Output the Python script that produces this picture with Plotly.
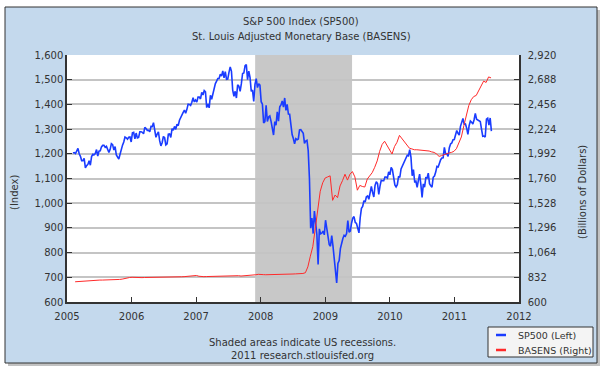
import pandas as pd
import plotly.graph_objects as go

# ---------------- data ----------------
# S&P 500 weekly closes (Fridays) from 2005-02-04
sp500_2005 = [1203, 1205, 1201, 1211, 1222, 1200, 1190, 1172, 1172, 1182, 1143, 1152,
              1157, 1172, 1154, 1189, 1198, 1196, 1201, 1217, 1191, 1211, 1212, 1228,
              1234, 1234, 1226, 1230, 1220, 1205, 1218, 1241, 1237, 1215, 1229, 1195,
              1187, 1179, 1198, 1220, 1235, 1248, 1268, 1265, 1259, 1267, 1268, 1248]
sp500_2006 = [1285, 1287, 1261, 1284, 1264, 1266, 1289, 1289, 1287, 1281, 1307, 1302,
              1295, 1295, 1289, 1311, 1310, 1326, 1291, 1267, 1280, 1289, 1253, 1232,
              1245, 1270, 1265, 1236, 1240, 1279, 1280, 1266, 1302, 1295, 1311, 1299,
              1320, 1314, 1336, 1349, 1362, 1368, 1377, 1364, 1380, 1401, 1400, 1396,
              1409, 1427, 1410, 1418]
sp500_2007 = [1409, 1430, 1430, 1422, 1449, 1438, 1456, 1451, 1387, 1402, 1386, 1437,
              1421, 1443, 1452, 1484, 1494, 1505, 1505, 1522, 1515, 1536, 1507, 1533,
              1502, 1503, 1530, 1552, 1534, 1458, 1433, 1453, 1426, 1479, 1474, 1453,
              1484, 1525, 1527, 1557, 1561, 1500, 1535, 1509, 1453, 1458, 1412, 1481,
              1504, 1468, 1484, 1478]
sp500_2008 = [1411, 1401, 1325, 1330, 1396, 1331, 1349, 1353, 1331, 1294, 1276, 1330,
              1316, 1370, 1332, 1390, 1398, 1414, 1389, 1426, 1376, 1400, 1361, 1360,
              1318, 1278, 1262, 1240, 1261, 1257, 1260, 1297, 1298, 1292, 1283, 1242,
              1252, 1255, 1213, 1099, 899, 940, 877, 968, 930, 873, 752, 896,
              876, 879, 887, 872]
sp500_2009 = [931, 890, 850, 832, 826, 869, 827, 770, 735, 677, 756, 768,
              816, 843, 857, 870, 866, 877, 930, 883, 887, 919, 940, 946,
              922, 918, 896, 880, 941, 979, 987, 1010, 1005, 1026, 1029, 1016,
              1042, 1068, 1044, 1025, 1072, 1087, 1080, 1036, 1069, 1093, 1091, 1091,
              1106, 1106, 1102, 1127, 1115]
sp500_2010 = [1145, 1136, 1092, 1074, 1066, 1075, 1109, 1104, 1139, 1150, 1160, 1167,
              1179, 1194, 1192, 1217, 1187, 1111, 1136, 1087, 1089, 1064, 1092, 1118,
              1076, 1023, 1078, 1065, 1103, 1102, 1122, 1079, 1071, 1065, 1105, 1110,
              1126, 1149, 1147, 1166, 1176, 1183, 1184, 1226, 1200, 1200, 1190, 1225,
              1240, 1244, 1257, 1258]
sp500_2011 = [1272, 1294, 1283, 1276, 1311, 1329, 1343, 1320, 1321, 1304, 1279, 1314,
              1333, 1328, 1320, 1338, 1364, 1340, 1338, 1333, 1331, 1300, 1271, 1272,
              1268, 1340, 1344, 1316, 1345, 1292]
sp500 = sp500_2005 + sp500_2006 + sp500_2007 + sp500_2008 + sp500_2009 + sp500_2010 + sp500_2011
sp_dates = pd.date_range("2005-02-04", periods=len(sp500), freq="W-FRI")

# St. Louis Adjusted Monetary Base, biweekly from 2005-02-16 (billions $)
basens_2005 = [790, 792, 795, 797, 800, 801, 802, 802, 803, 804, 806, 806, 806, 807,
               807, 808, 808, 810, 812, 815, 822, 826, 830]
basens_2006 = [832, 830, 828, 828, 829, 830, 830, 832, 833, 833, 834, 834, 835, 836,
               835, 835, 835, 836, 836, 836, 837, 838, 840, 845, 848, 852]
basens_2007 = [849, 842, 838, 838, 839, 840, 841, 842, 843, 846, 845, 844, 845, 846,
               845, 846, 849, 847, 844, 845, 846, 847, 849, 853, 856, 860]
basens_2008 = [862, 857, 856, 856, 856, 857, 858, 858, 858, 859, 860, 861, 862, 863,
               864, 865, 866, 868, 875, 930, 1030, 1120, 1290, 1470, 1640, 1720, 1765]
basens_2009 = [1775, 1785, 1555, 1605, 1580, 1690, 1740, 1800, 1745, 1800, 1825, 1775,
               1650, 1695, 1685, 1680, 1755, 1790, 1815, 1865, 1925, 2015, 2080, 2110,
               2070, 2040]
basens_2010 = [1990, 2060, 2100, 2165, 2135, 2110, 2070, 2045, 2038, 2030, 2030, 2028,
               2025, 2022, 2020, 2018, 2010, 2005, 1990, 1968, 1975, 1985, 1992, 2000,
               2005, 2015]
basens_2011 = [2040, 2100, 2150, 2255, 2365, 2445, 2500, 2530, 2540, 2585, 2630, 2675,
               2662, 2714, 2705]
basens = basens_2005 + basens_2006 + basens_2007 + basens_2008 + basens_2009 + basens_2010 + basens_2011
ba_dates = pd.date_range("2005-02-16", periods=len(basens), freq="2W-WED")

recession = ["2007-12-01", "2009-06-01"]
left_ticks = list(range(600, 1601, 100))
right_ticks = list(range(600, 2921, 232))

# ---------------- layout helpers ----------------
W, H = 600, 375
PL, PR, PT, PB = 67, 519, 55, 302


def px(x):
    return (x - PL) / (PR - PL)


def py(y):
    return (PB - y) / (PB - PT)


FONT = "DejaVu Sans"
TXT = "#333333"
BLUE = "#1a3cff"
RED = "#ff2a2a"

fig = go.Figure()
fig.add_trace(go.Scatter(x=sp_dates, y=sp500, mode="lines", name="SP500 (Left)",
                         line=dict(color=BLUE, width=1.6), yaxis="y"))
fig.add_trace(go.Scatter(x=ba_dates, y=basens, mode="lines", name="BASENS (Right)",
                         line=dict(color=RED, width=1), yaxis="y2"))

shapes = [
    # shadow
    dict(type="rect", xref="paper", yref="paper", x0=px(8), x1=px(600), y0=py(10), y1=py(366),
         fillcolor="#9a9a9a", line=dict(width=0), layer="below", opacity=0.6),
    # panel
    dict(type="rect", xref="paper", yref="paper", x0=px(5), x1=px(597), y0=py(7), y1=py(363),
         fillcolor="#c4d9ed", line=dict(color="#333333", width=1), layer="below"),
    # plot area
    dict(type="rect", xref="x domain", yref="y domain", x0=0, x1=1, y0=0, y1=1,
         fillcolor="white", line=dict(width=0), layer="below"),
    # recession
    dict(type="rect", xref="x", yref="y domain", x0=recession[0], x1=recession[1], y0=0, y1=1,
         fillcolor="#c8c8c8", line=dict(width=0), layer="below"),
    # legend box
    dict(type="rect", xref="paper", yref="paper", x0=px(488), x1=px(593), y0=py(327), y1=py(357),
         fillcolor="#f4f4f4", line=dict(color="#333333", width=1), layer="above"),
    dict(type="line", xref="paper", yref="paper", x0=px(496), x1=px(506), y0=py(335), y1=py(335),
         line=dict(color=BLUE, width=2.5), layer="above"),
    dict(type="line", xref="paper", yref="paper", x0=px(496), x1=px(506), y0=py(350), y1=py(350),
         line=dict(color=RED, width=2.5), layer="above"),
]

annotations = [
    dict(text="S&P 500 Index (SP500)", x=px(301), y=py(22)),
    dict(text="St. Louis Adjusted Monetary Base (BASENS)", x=px(301), y=py(36)),
    dict(text="Shaded areas indicate US recessions.", x=px(302), y=py(342)),
    dict(text="2011 research.stlouisfed.org", x=px(302), y=py(355)),
    dict(text="(Index)", x=px(14), y=py(193), textangle=-90),
    dict(text="(Billions of Dollars)", x=px(582), y=py(192), textangle=-90),
    dict(text="SP500 (Left)", x=px(516), y=py(335), xanchor="left", size=9.5),
    dict(text="BASENS (Right)", x=px(516), y=py(350), xanchor="left", size=9.5),
]
ann_list = []
for a in annotations:
    size = a.pop("size", 10)
    d = dict(xref="paper", yref="paper", showarrow=False, xanchor=a.pop("xanchor", "center"),
             yanchor="middle", font=dict(family=FONT, size=size, color=TXT))
    d.update(a)
    ann_list.append(d)

axis_common = dict(showline=True, linecolor="#333333", linewidth=1.5, ticks="inside",
                   ticklen=5, tickcolor="#333333", tickwidth=1,
                   tickfont=dict(family=FONT, size=10, color=TXT), zeroline=False)

fig.update_layout(
    width=W, height=H,
    margin=dict(l=PL, r=W - PR, t=PT, b=H - PB, pad=0),
    paper_bgcolor="white", plot_bgcolor="white",
    showlegend=False,
    shapes=shapes, annotations=ann_list,
    xaxis=dict(type="date", range=["2005-01-01", "2012-01-01"], dtick="M12", tickformat="%Y",
               tick0="2005-01-01", showgrid=False, ticklabelstandoff=4, **axis_common),
    yaxis=dict(range=[600, 1600], tickvals=left_ticks, tickformat=",d", showgrid=True,
               gridcolor="#c4c4c4", gridwidth=1.5, **axis_common),
    yaxis2=dict(range=[600, 2920], tickvals=right_ticks, tickformat=",d", overlaying="y",
                side="right", showgrid=False, ticklabelstandoff=5, **axis_common),
)

fig.write_html("out.html", config={"displayModeBar": False},
               post_script="document.body.style.margin='0';document.body.style.overflow='hidden';")
